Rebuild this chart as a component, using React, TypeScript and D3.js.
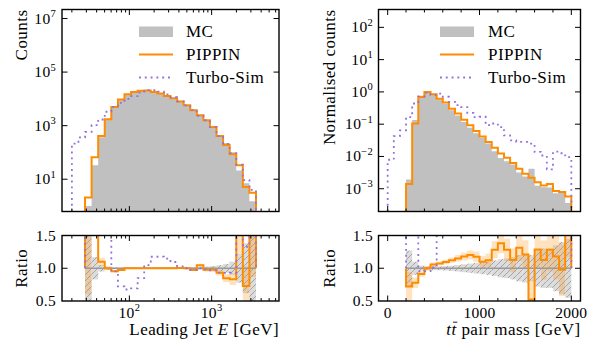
import React, { useLayoutEffect, useRef, useState } from "react";
import * as d3 from "d3";

// ---------------- data ----------------
// Left: leading jet energy, 30 log-spaced bins between 20 and 5000 GeV
const jetBinCount = 30;
const jetBinRange = [20, 5000];
const jetMC = [0, 0, 1, 33, 370, 1740, 5250, 9800, 14800, 18200, 20000, 20400, 18200, 15800, 12900, 10500, 7900, 5750, 3900, 2340, 1620, 910, 440, 224, 102, 21, 7, 1.5, 0, 0];
const jetPippin = [0, 0, 2.1, 66, 407, 1740, 5010, 9550, 14800, 18200, 20000, 20400, 18200, 15800, 12900, 10500, 7940, 5750, 3800, 2450, 1580, 890, 410, 190, 85, 33, 5.1, 3.1, 0, 0];
const jetTurbo = [214, 363, 589, 1050, 1700, 3310, 5000, 7080, 10000, 12600, 17000, 21400, 21400, 18600, 14800, 11500, 8130, 5750, 3800, 2340, 1590, 880, 410, 208, 95, 35, 9.3, 4, 0, 0];
const jetMCRelErr = [0, 0, 1, 0.17, 0.05, 0.024, 0.014, 0.01, 0.008, 0.007, 0.007, 0.007, 0.007, 0.008, 0.009, 0.01, 0.011, 0.013, 0.016, 0.021, 0.025, 0.033, 0.048, 0.067, 0.1, 0.22, 0.38, 0.8, 0, 0];
const jetPippinRatioErr = [0, 0, 1.5, 0.35, 0.06, 0.025, 0.014, 0.01, 0.008, 0.007, 0.007, 0.007, 0.007, 0.008, 0.009, 0.01, 0.011, 0.013, 0.016, 0.021, 0.025, 0.033, 0.045, 0.06, 0.09, 0.35, 0.3, 1.2, 0, 0];

// Right: ttbar pair mass, 30 bins between 0 and 2000 GeV (normalised)
const massBinCount = 30;
const massBinRange = [0, 2000];
const massMC = [0, 0, 0, 0.00195, 0.135, 0.759, 1.0, 0.804, 0.575, 0.427, 0.269, 0.186, 0.117, 0.0776, 0.0525, 0.038, 0.0251, 0.0145, 0.0089, 0.0071, 0.0056, 0.0032, 0.0024, 0.0042, 0.00123, 0.00112, 0.0011, 0.00072, 0.00081, 0.00036];
const massPippin = [0, 0, 0, 0.00141, 0.105, 0.692, 1.0, 0.851, 0.617, 0.468, 0.302, 0.214, 0.138, 0.0933, 0.0617, 0.0417, 0.0282, 0.0186, 0.0123, 0.0091, 0.0063, 0.0042, 0.0029, 0.0022, 0.00158, 0.00126, 0.00141, 0.00085, 0.00079, 0.00058];
const massTurbo = [0.0079, 0.0427, 0.0646, 0.166, 0.437, 0.724, 0.955, 0.813, 0.891, 0.708, 0.49, 0.389, 0.339, 0.224, 0.166, 0.17, 0.0933, 0.105, 0.0813, 0.0447, 0.0316, 0.0282, 0.0282, 0.0251, 0.0138, 0.0107, 0.004, 0.0141, 0.0126, 0.0095];
const massMCRelErr = [0, 0, 0, 0.27, 0.1, 0.04, 0.03, 0.03, 0.03, 0.035, 0.04, 0.05, 0.06, 0.07, 0.08, 0.09, 0.1, 0.12, 0.14, 0.15, 0.17, 0.2, 0.22, 0.2, 0.28, 0.3, 0.3, 0.35, 0.4, 0.45];
const massPippinRatioErr = [0, 0, 0, 0.22, 0.08, 0.04, 0.03, 0.03, 0.03, 0.035, 0.04, 0.05, 0.06, 0.07, 0.08, 0.09, 0.1, 0.13, 0.15, 0.17, 0.18, 0.2, 0.22, 0.3, 0.28, 0.3, 0.33, 0.35, 0.4, 0.45];

const legendLabels = ["MC", "PIPPIN", "Turbo-Sim"];
const jetYTickExps = [1, 3, 5, 7];
const massYTickExps = [-3, -2, -1, 0, 1, 2];
const jetXTickExps = [2, 3];
const massXTicks = [0, 1000, 2000];
const ratioTicks = [0.5, 1.0, 1.5];

// ---------------- style ----------------
const FONT = "'Liberation Serif', 'Times New Roman', serif";
const ORANGE = "#ff8c00";
const PURPLE = "#9370db";
const GREY = "#c0c0c0";
const FS = 15.5;
const SUP = 10.5;
const LFS = 17;
const LS = 0.45;

const LX: [number, number] = [62, 279];
const RX: [number, number] = [378.5, 580.5];
const TOPY: [number, number] = [9.5, 211.5];
const RATY: [number, number] = [235.5, 301];

function stepPath(edges: number[], vals: number[], x: (v: number) => number, y: (v: number) => number, base: number, valid: (v: number) => boolean) {
  let d = `M${x(edges[0])},${base}`;
  for (let i = 0; i < vals.length; i++) {
    const yy = valid(vals[i]) ? y(vals[i]) : base + 40;
    d += `L${x(edges[i])},${yy}L${x(edges[i + 1])},${yy}`;
  }
  d += `L${x(edges[edges.length - 1])},${base}`;
  return d;
}

function ratioPath(edges: number[], num: number[], den: number[], x: (v: number) => number, y: (v: number) => number) {
  const idx = den.map((v, i) => (v > 0 ? i : -1)).filter((i) => i >= 0);
  const first = idx[0];
  const last = idx[idx.length - 1];
  let d = `M${x(edges[first])},${y(1)}`;
  for (let i = first; i <= last; i++) {
    const r = Math.max(-5, Math.min(5, num[i] / den[i]));
    d += `L${x(edges[i])},${y(r)}L${x(edges[i + 1])},${y(r)}`;
  }
  d += `L${x(edges[last + 1])},${y(1)}`;
  return d;
}

function bandRects(edges: number[], center: number[], half: number[], den: number[], x: (v: number) => number, y: (v: number) => number, fill: string, key: string, opacity: number) {
  return den.map((v, i) => {
    if (!(v > 0) || !(half[i] > 0)) return null;
    const c = center[i];
    const lo = Math.max(-1, c - half[i]);
    const hi = Math.min(3, c + half[i]);
    return <rect key={key + i} x={x(edges[i])} width={x(edges[i + 1]) - x(edges[i])} y={y(hi)} height={y(lo) - y(hi)} fill={fill} fillOpacity={opacity} stroke="none" />;
  });
}

function Ticks({ xs, ys, xr, yr }: { xs: { p: number; major: boolean }[]; ys: { p: number; major: boolean }[]; xr: [number, number]; yr: [number, number] }) {
  const out: any[] = [];
  xs.forEach((t, i) => {
    if (t.p < xr[0] + 0.5 || t.p > xr[1] - 0.5) return;
    const L = t.major ? 5.5 : 3;
    out.push(<line key={"xb" + i} x1={t.p} x2={t.p} y1={yr[1]} y2={yr[1] - L} />);
    out.push(<line key={"xt" + i} x1={t.p} x2={t.p} y1={yr[0]} y2={yr[0] + L} />);
  });
  ys.forEach((t, i) => {
    if (t.p < yr[0] + 0.5 || t.p > yr[1] - 0.5) return;
    const L = t.major ? 5.5 : 3;
    out.push(<line key={"yl" + i} x1={xr[0]} x2={xr[0] + L} y1={t.p} y2={t.p} />);
    out.push(<line key={"yr" + i} x1={xr[1]} x2={xr[1] - L} y1={t.p} y2={t.p} />);
  });
  return <g stroke="#000" strokeWidth={1}>{out}</g>;
}

function Pow10({ x, y, exp, anchor }: { x: number; y: number; exp: number; anchor: string }) {
  const e = exp < 0 ? "\u2212" + Math.abs(exp) : String(exp);
  return (
    <text x={x} y={y} textAnchor={anchor} fontFamily={FONT} fontSize={FS} fill="#000" letterSpacing={0.3}>
      10<tspan dy={-6.5} fontSize={SUP}>{e}</tspan>
    </text>
  );
}

function Legend({ x, patchX }: { x: number; patchX: number }) {
  const rows = [31.7, 54.5, 77.5];
  return (
    <g>
      <rect x={patchX} y={26.5} width={34} height={10.5} fill={GREY} />
      <line x1={patchX} x2={patchX + 34} y1={rows[1]} y2={rows[1]} stroke={ORANGE} strokeWidth={2} />
      <line x1={patchX} x2={patchX + 34} y1={rows[2]} y2={rows[2]} stroke={PURPLE} strokeWidth={1.8} strokeDasharray="1.9 3.9" />
      {legendLabels.map((l, i) => (
        <text key={l} x={x} y={rows[i] + 5.7} fontFamily={FONT} fontSize={LFS} letterSpacing={LS} fill="#000">{l}</text>
      ))}
    </g>
  );
}

function MassLabel({ x, y }: { x: number; y: number }) {
  const ref = useRef<SVGTextElement>(null);
  const [bar, setBar] = useState<{ x1: number; x2: number } | null>(null);
  useLayoutEffect(() => {
    const el = ref.current;
    if (!el) return;
    try {
      const ext = el.getExtentOfChar(1);
      setBar({ x1: ext.x + 1.6, x2: ext.x + ext.width + 0.6 });
    } catch (e) {
      setBar(null);
    }
  }, []);
  return (
    <g>
      <text ref={ref} x={x} y={y} textAnchor="end" fontFamily={FONT} fontSize={LFS} letterSpacing={LS}>
        <tspan fontStyle="italic">tt</tspan> pair mass [GeV]
      </text>
      {bar && <line x1={bar.x1} x2={bar.x2} y1={y - 12.8} y2={y - 12.8} stroke="#000" strokeWidth={0.9} />}
    </g>
  );
}

export default function App() {
  const jetEdges = d3.range(jetBinCount + 1).map((i) => jetBinRange[0] * Math.pow(jetBinRange[1] / jetBinRange[0], i / jetBinCount));
  const massEdges = d3.range(massBinCount + 1).map((i) => massBinRange[0] + ((massBinRange[1] - massBinRange[0]) * i) / massBinCount);

  const xJet = d3.scaleLog().domain([Math.pow(10, 1.181), Math.pow(10, 3.819)]).range(LX);
  const xMass = d3.scaleLinear().domain([-100, 2100]).range(RX);
  const yJet = d3.scaleLog().domain([Math.pow(10, -0.205), Math.pow(10, 7.337)]).range([TOPY[1], TOPY[0]]);
  const yMass = d3.scaleLog().domain([Math.pow(10, -3.705), Math.pow(10, 2.553)]).range([TOPY[1], TOPY[0]]);
  const yRatL = d3.scaleLinear().domain([0.5, 1.5]).range([RATY[1], RATY[0]]);
  const yRatR = yRatL;

  const pos = (v: number) => v > 0;

  const jetXT: { p: number; major: boolean }[] = [];
  [10, 100, 1000].forEach((dec) => {
    for (let k = 1; k <= 9; k++) jetXT.push({ p: xJet(dec * k), major: k === 1 });
  });
  const massXT = d3.range(0, 2001, 200).map((v) => ({ p: xMass(v), major: v % 1000 === 0 }));
  const jetYT = jetYTickExps.map((e) => ({ p: yJet(Math.pow(10, e)), major: true }));
  const massYT = massYTickExps.map((e) => ({ p: yMass(Math.pow(10, e)), major: true }));
  const ratYT = ratioTicks.map((v) => ({ p: yRatL(v), major: true }));

  const ones = jetMC.map(() => 1);
  const onesM = massMC.map(() => 1);
  const jetRatioP = jetPippin.map((v, i) => (jetMC[i] > 0 ? v / jetMC[i] : 0));
  const massRatioP = massPippin.map((v, i) => (massMC[i] > 0 ? v / massMC[i] : 0));

  const firstJ = jetMC.findIndex((v) => v > 0);
  const lastJ = jetMC.length - 1 - [...jetMC].reverse().findIndex((v) => v > 0);
  const firstM = massMC.findIndex((v) => v > 0);
  const lastM = massMC.length - 1 - [...massMC].reverse().findIndex((v) => v > 0);

  const tickBase = 317.5;
  const xlabBase = 335;

  return (
    <svg width={592} height={343} style={{ position: "absolute", left: 0, top: 0, background: "#fff" }}>
      <defs>
        <clipPath id="cTL"><rect x={LX[0]} y={TOPY[0]} width={LX[1] - LX[0]} height={TOPY[1] - TOPY[0]} /></clipPath>
        <clipPath id="cTR"><rect x={RX[0]} y={TOPY[0]} width={RX[1] - RX[0]} height={TOPY[1] - TOPY[0]} /></clipPath>
        <clipPath id="cBL"><rect x={LX[0]} y={RATY[0]} width={LX[1] - LX[0]} height={RATY[1] - RATY[0]} /></clipPath>
        <clipPath id="cBR"><rect x={RX[0]} y={RATY[0]} width={RX[1] - RX[0]} height={RATY[1] - RATY[0]} /></clipPath>
        <pattern id="hatch" patternUnits="userSpaceOnUse" width={6} height={6}>
          <rect width={6} height={6} fill="#dcdcdc" />
          <path d="M-1,1 l2,-2 M0,6 l6,-6 M5,7 l2,-2" stroke="#8c8c8c" strokeWidth={0.7} />
        </pattern>
      </defs>
      <rect x={0} y={0} width={592} height={343} fill="#fff" />

      {/* ---------- top left ---------- */}
      <g clipPath="url(#cTL)">
        <path d={stepPath(jetEdges, jetMC, xJet, yJet, TOPY[1], pos) + "Z"} fill={GREY} stroke="none" />
        <path d={stepPath(jetEdges, jetPippin, xJet, yJet, TOPY[1], pos)} fill="none" stroke={ORANGE} strokeWidth={2} />
        <path d={stepPath(jetEdges, jetTurbo, xJet, yJet, TOPY[1], pos)} fill="none" stroke={PURPLE} strokeWidth={1.8} strokeDasharray="1.9 3.9" />
      </g>
      <Ticks xs={jetXT} ys={jetYT} xr={LX} yr={TOPY} />
      <rect x={LX[0]} y={TOPY[0]} width={LX[1] - LX[0]} height={TOPY[1] - TOPY[0]} fill="none" stroke="#000" strokeWidth={1.4} />
      {jetYTickExps.map((e) => <Pow10 key={e} x={56} y={yJet(Math.pow(10, e)) + 5} exp={e} anchor="end" />)}
      <Legend x={186} patchX={139} />
      <text transform={`translate(27,${TOPY[0]}) rotate(-90)`} textAnchor="end" fontFamily={FONT} fontSize={LFS} letterSpacing={LS}>Counts</text>

      {/* ---------- bottom left ---------- */}
      <g clipPath="url(#cBL)">
        {bandRects(jetEdges, ones, jetMCRelErr, jetMC, xJet, yRatL, "url(#hatch)", "hb", 1)}
        {bandRects(jetEdges, jetRatioP, jetPippinRatioErr, jetMC, xJet, yRatL, ORANGE, "ob", 0.25)}
        <line x1={xJet(jetEdges[firstJ])} x2={xJet(jetEdges[lastJ + 1])} y1={yRatL(1)} y2={yRatL(1)} stroke="#999" strokeWidth={1.5} />
        <path d={ratioPath(jetEdges, jetPippin, jetMC, xJet, yRatL)} fill="none" stroke={ORANGE} strokeWidth={2} />
        <path d={ratioPath(jetEdges, jetTurbo, jetMC, xJet, yRatL)} fill="none" stroke={PURPLE} strokeWidth={1.8} strokeDasharray="1.9 3.9" />
      </g>
      <Ticks xs={jetXT} ys={ratYT} xr={LX} yr={RATY} />
      <rect x={LX[0]} y={RATY[0]} width={LX[1] - LX[0]} height={RATY[1] - RATY[0]} fill="none" stroke="#000" strokeWidth={1.4} />
      {ratioTicks.map((v) => <text key={v} x={56} y={yRatL(v) + 5} textAnchor="end" fontFamily={FONT} fontSize={FS} letterSpacing={0.3}>{v.toFixed(1)}</text>)}
      {jetXTickExps.map((e) => <Pow10 key={e} x={xJet(Math.pow(10, e))} y={tickBase} exp={e} anchor="middle" />)}
      <text transform={`translate(27,${(RATY[0] + RATY[1]) / 2}) rotate(-90)`} textAnchor="middle" fontFamily={FONT} fontSize={LFS} letterSpacing={LS}>Ratio</text>
      <text x={LX[1]} y={xlabBase} textAnchor="end" fontFamily={FONT} fontSize={LFS} letterSpacing={LS}>
        Leading Jet <tspan fontStyle="italic">E</tspan> [GeV]
      </text>

      {/* ---------- top right ---------- */}
      <g clipPath="url(#cTR)">
        <path d={stepPath(massEdges, massMC, xMass, yMass, TOPY[1], pos) + "Z"} fill={GREY} stroke="none" />
        <path d={stepPath(massEdges, massPippin, xMass, yMass, TOPY[1], pos)} fill="none" stroke={ORANGE} strokeWidth={2} />
        <path d={stepPath(massEdges, massTurbo, xMass, yMass, TOPY[1], pos)} fill="none" stroke={PURPLE} strokeWidth={1.8} strokeDasharray="1.9 3.9" />
      </g>
      <Ticks xs={massXT} ys={massYT} xr={RX} yr={TOPY} />
      <rect x={RX[0]} y={TOPY[0]} width={RX[1] - RX[0]} height={TOPY[1] - TOPY[0]} fill="none" stroke="#000" strokeWidth={1.4} />
      {massYTickExps.map((e) => <Pow10 key={e} x={373} y={yMass(Math.pow(10, e)) + 5} exp={e} anchor="end" />)}
      <Legend x={488} patchX={440} />
      <text transform={`translate(335,${TOPY[0]}) rotate(-90)`} textAnchor="end" fontFamily={FONT} fontSize={LFS} letterSpacing={LS}>Normalised counts</text>

      {/* ---------- bottom right ---------- */}
      <g clipPath="url(#cBR)">
        {bandRects(massEdges, onesM, massMCRelErr, massMC, xMass, yRatR, "url(#hatch)", "hbr", 1)}
        {bandRects(massEdges, massRatioP, massPippinRatioErr, massMC, xMass, yRatR, ORANGE, "obr", 0.25)}
        <line x1={xMass(massEdges[firstM])} x2={xMass(massEdges[lastM + 1])} y1={yRatR(1)} y2={yRatR(1)} stroke="#999" strokeWidth={1.5} />
        <path d={ratioPath(massEdges, massPippin, massMC, xMass, yRatR)} fill="none" stroke={ORANGE} strokeWidth={2} />
        <path d={ratioPath(massEdges, massTurbo, massMC, xMass, yRatR)} fill="none" stroke={PURPLE} strokeWidth={1.8} strokeDasharray="1.9 3.9" />
      </g>
      <Ticks xs={massXT} ys={ratYT} xr={RX} yr={RATY} />
      <rect x={RX[0]} y={RATY[0]} width={RX[1] - RX[0]} height={RATY[1] - RATY[0]} fill="none" stroke="#000" strokeWidth={1.4} />
      {ratioTicks.map((v) => <text key={v} x={373} y={yRatR(v) + 5} textAnchor="end" fontFamily={FONT} fontSize={FS} letterSpacing={0.3}>{v.toFixed(1)}</text>)}
      {massXTicks.map((v) => <text key={v} x={xMass(v)} y={tickBase} textAnchor="middle" fontFamily={FONT} fontSize={FS} letterSpacing={0.3}>{v}</text>)}
      <text transform={`translate(335,${(RATY[0] + RATY[1]) / 2}) rotate(-90)`} textAnchor="middle" fontFamily={FONT} fontSize={LFS} letterSpacing={LS}>Ratio</text>
      <MassLabel x={RX[1]} y={xlabBase} />
    </svg>
  );
}
